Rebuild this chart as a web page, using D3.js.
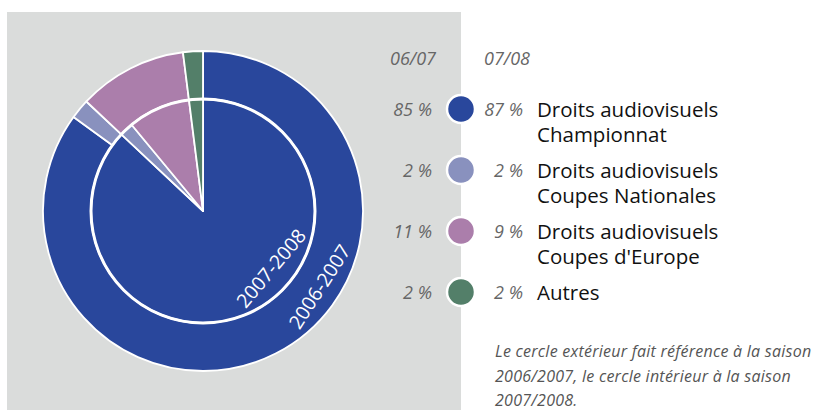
<!DOCTYPE html>
<html lang="fr">
<head>
    <meta charset="UTF-8">
    <title>droits audiovisuels</title>
    <script src="https://d3js.org/d3.v7.min.js"></script>
    <style>
        body { margin: 0; background: #fff; }
        text { font-family: "Open Sans", sans-serif; }
    </style>
</head>
<body>
    <svg></svg>
    <script>
        // valeurs
        const categories = [
            ["Droits audiovisuels", "Championnat"],
            ["Droits audiovisuels", "Coupes Nationales"],
            ["Droits audiovisuels", "Coupes d'Europe"],
            ["Autres"]
        ];
        const season0607 = [85, 2, 11, 2];
        const season0708 = [87, 2, 9, 2];
        const seasonHeaders = ["06/07", "07/08"];
        const ringLabels = ["2006-2007", "2007-2008"];
        const note = [
            "Le cercle extérieur fait référence à la saison",
            "2006/2007, le cercle intérieur à la saison",
            "2007/2008."
        ];

        const colors = ["#29479c", "#8991be", "#ab7eab", "#537f69"];

        const svgWidth = 817;
        const svgHeight = 410;
        const cx = 203, cy = 211;
        const rInner = 112, rOuter = 160;

        const svg = d3.select('svg')
            .attr("width", svgWidth)
            .attr("height", svgHeight);

        // fond gris
        svg.append("rect")
            .attr("x", 7).attr("y", 12)
            .attr("width", 454).attr("height", 398)
            .attr("fill", "#dadcdb");

        const pie = d3.pie().sort(null).value(d => d);
        const outerArc = d3.arc().innerRadius(rInner).outerRadius(rOuter);
        const innerArc = d3.arc().innerRadius(0).outerRadius(rInner);

        const g = svg.append("g").attr("transform", `translate(${cx},${cy})`);

        g.selectAll("path.outer")
            .data(pie(season0607))
            .enter()
            .append("path")
            .attr("class", "outer")
            .attr("d", outerArc)
            .attr("fill", (d, i) => colors[i])
            .attr("stroke", "#fff")
            .attr("stroke-width", 1.8)
            .attr("stroke-linejoin", "round");

        g.selectAll("path.inner")
            .data(pie(season0708))
            .enter()
            .append("path")
            .attr("class", "inner")
            .attr("d", innerArc)
            .attr("fill", (d, i) => colors[i])
            .attr("stroke", "#fff")
            .attr("stroke-width", 1.8)
            .attr("stroke-linejoin", "round");

        g.append("circle")
            .attr("r", rInner)
            .attr("fill", "none")
            .attr("stroke", "#fff")
            .attr("stroke-width", 3);

        // étiquettes des cercles, tangentes au bord
        const ringPos = [
            { angle: 123, r: 146 },
            { angle: 130, r: 96 }
        ];
        g.selectAll("text.ring")
            .data(ringLabels)
            .enter()
            .append("text")
            .attr("class", "ring")
            .attr("transform", (d, i) => {
                const a = ringPos[i].angle * Math.PI / 180;
                const x = ringPos[i].r * Math.sin(a);
                const y = -ringPos[i].r * Math.cos(a);
                return `translate(${x},${y}) rotate(${ringPos[i].angle - 180})`;
            })
            .attr("text-anchor", "middle")
            .attr("fill", "#fff")
            .attr("font-size", 19.5)
            .text(d => d);

        // légende
        const legendY = d3.scalePoint()
            .domain(d3.range(categories.length))
            .range([109, 292]);

        svg.selectAll("text.head")
            .data(seasonHeaders)
            .enter()
            .append("text")
            .attr("class", "head")
            .attr("x", (d, i) => i === 0 ? 436 : 484)
            .attr("y", 65)
            .attr("text-anchor", (d, i) => i === 0 ? "end" : "start")
            .attr("font-style", "italic")
            .attr("font-size", 18)
            .attr("fill", "#666")
            .text(d => d);

        const rows = svg.selectAll("g.row")
            .data(categories)
            .enter()
            .append("g")
            .attr("class", "row")
            .attr("transform", (d, i) => `translate(0,${legendY(i)})`);

        rows.append("circle")
            .attr("cx", 461)
            .attr("r", 14)
            .attr("fill", (d, i) => colors[i])
            .attr("stroke", "#fff")
            .attr("stroke-width", 2.5);

        rows.append("text")
            .attr("x", 432)
            .attr("y", 7)
            .attr("text-anchor", "end")
            .attr("font-style", "italic")
            .attr("font-size", 18)
            .attr("fill", "#666")
            .text((d, i) => season0607[i] + " %");

        rows.append("text")
            .attr("x", 523)
            .attr("y", 7)
            .attr("text-anchor", "end")
            .attr("font-style", "italic")
            .attr("font-size", 18)
            .attr("fill", "#666")
            .text((d, i) => season0708[i] + " %");

        rows.each(function (d) {
            const t = d3.select(this).append("text")
                .attr("x", 537)
                .attr("y", 8)
                .attr("font-size", 20.5)
                .attr("fill", "#111");
            d.forEach((line, j) => {
                t.append("tspan")
                    .attr("x", 537)
                    .attr("dy", j === 0 ? 0 : 24.5)
                    .text(line);
            });
        });

        // note
        svg.selectAll("text.note")
            .data(note)
            .enter()
            .append("text")
            .attr("class", "note")
            .attr("x", 495)
            .attr("y", (d, i) => 357 + i * 24.5)
            .attr("font-family", "Roboto, sans-serif")
            .attr("font-style", "italic")
            .attr("font-size", 16)
            .attr("letter-spacing", 0.25)
            .attr("fill", "#555")
            .text(d => d);
    </script>
</body>
</html>
